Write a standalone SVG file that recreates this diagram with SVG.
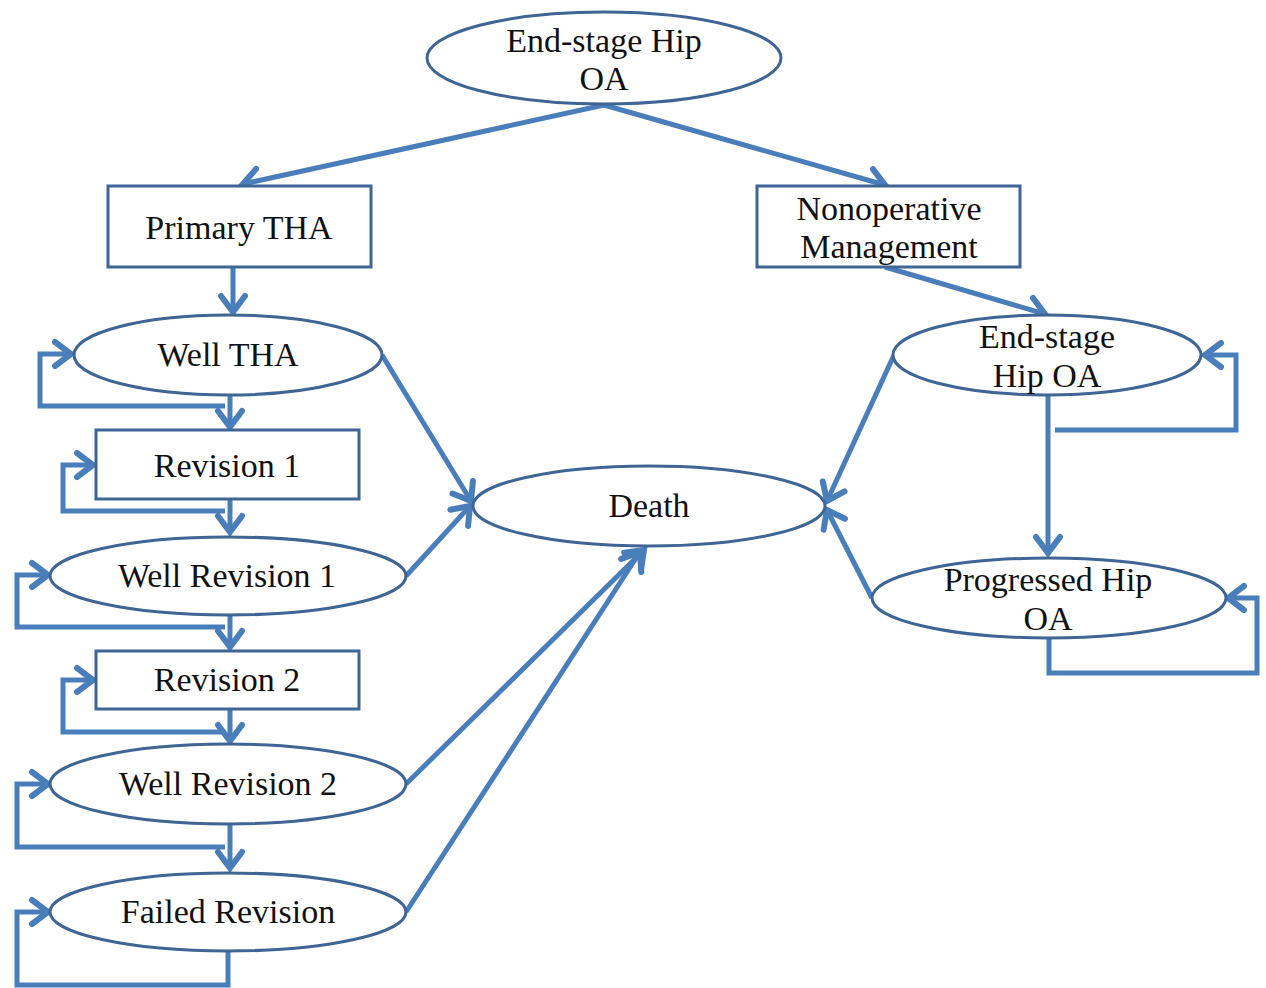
<svg xmlns="http://www.w3.org/2000/svg" width="1266" height="988" viewBox="0 0 1266 988">
<style>
.n{fill:#fff;stroke:#3f6595;stroke-width:3}
.t{font-family:"Liberation Serif","Times New Roman",serif;font-size:34px;fill:#111;text-anchor:middle}
.c{fill:none;stroke:#4a7ebb;stroke-width:5;stroke-linejoin:miter}
.ar{marker-end:url(#a)}
</style>
<defs>
<marker id="a" markerUnits="userSpaceOnUse" viewBox="-20 -15 24 30" refX="0" refY="0" markerWidth="24" markerHeight="30" orient="auto" overflow="visible">
<path d="M-16,-12 L0,0 L-16,12" fill="none" stroke="#4a7ebb" stroke-width="6" stroke-linecap="round"/>
</marker>
</defs>
<rect width="1266" height="988" fill="#fff"/>
<g id="connectors">
<path class="c ar" d="M604,105 L243,184"/>
<path class="c ar" d="M604,105 L885,185"/>
<path class="c ar" d="M233,267 L233,312"/>
<path class="c ar" d="M230,395 V427"/>
<path class="c ar" d="M225,406 H40 V354 H71"/>
<path class="c ar" d="M230,499 V532"/>
<path class="c ar" d="M225,511 H63 V465 H93"/>
<path class="c ar" d="M230,615 V647"/>
<path class="c ar" d="M225,627 H17 V575 H48"/>
<path class="c ar" d="M230,709 V741"/>
<path class="c ar" d="M225,732 H63 V680 H93"/>
<path class="c ar" d="M230,824 V868"/>
<path class="c ar" d="M225,847 H17 V784 H48"/>
<path class="c ar" d="M228,952 V985 H17 V912 H48"/>
<path class="c ar" d="M382,355 L471,501"/>
<path class="c ar" d="M406,576 L470,506"/>
<path class="c ar" d="M406,784 L644,550"/>
<path class="c ar" d="M406,912 L640,552"/>
<path class="c ar" d="M894,355 L827,501"/>
<path class="c ar" d="M872,598 L827,510"/>
<path class="c ar" d="M885,267 L1045,314"/>
<path class="c ar" d="M1048,395 V553"/>
<path class="c ar" d="M1055,430 H1236 V355 H1205"/>
<path class="c ar" d="M1049,638 V673 H1257 V598 H1228"/>
</g>
<g id="n-top"><ellipse class="n" cx="604" cy="58" rx="177" ry="46"/><text class="t" x="604" y="52">End-stage Hip</text><text class="t" x="604" y="90">OA</text></g>
<g id="n-primary"><rect class="n" x="108" y="186" width="263" height="81"/><text class="t" x="239" y="239">Primary THA</text></g>
<g id="n-nonop"><rect class="n" x="757" y="186" width="263" height="81"/><text class="t" x="889" y="220">Nonoperative</text><text class="t" x="889" y="258">Management</text></g>
<g id="n-wellTHA"><ellipse class="n" cx="228" cy="355" rx="154" ry="40"/><text class="t" x="228" y="366">Well THA</text></g>
<g id="n-rev1"><rect class="n" x="96" y="430" width="263" height="69"/><text class="t" x="227" y="477">Revision 1</text></g>
<g id="n-wellrev1"><ellipse class="n" cx="228" cy="576" rx="178" ry="39"/><text class="t" x="227" y="587">Well Revision 1</text></g>
<g id="n-rev2"><rect class="n" x="96" y="651" width="263" height="58"/><text class="t" x="227" y="691">Revision 2</text></g>
<g id="n-wellrev2"><ellipse class="n" cx="228" cy="784" rx="178" ry="40"/><text class="t" x="228" y="795">Well Revision 2</text></g>
<g id="n-failed"><ellipse class="n" cx="228" cy="912" rx="178" ry="39"/><text class="t" x="228" y="923">Failed Revision</text></g>
<g id="n-death"><ellipse class="n" cx="649" cy="506" rx="176" ry="40"/><text class="t" x="649" y="517">Death</text></g>
<g id="n-endstage"><ellipse class="n" cx="1047" cy="355" rx="154" ry="40"/><text class="t" x="1047" y="348">End-stage</text><text class="t" x="1047" y="387">Hip OA</text></g>
<g id="n-progressed"><ellipse class="n" cx="1049" cy="598" rx="177" ry="40"/><text class="t" x="1048" y="591">Progressed Hip</text><text class="t" x="1048" y="630">OA</text></g>
</svg>
